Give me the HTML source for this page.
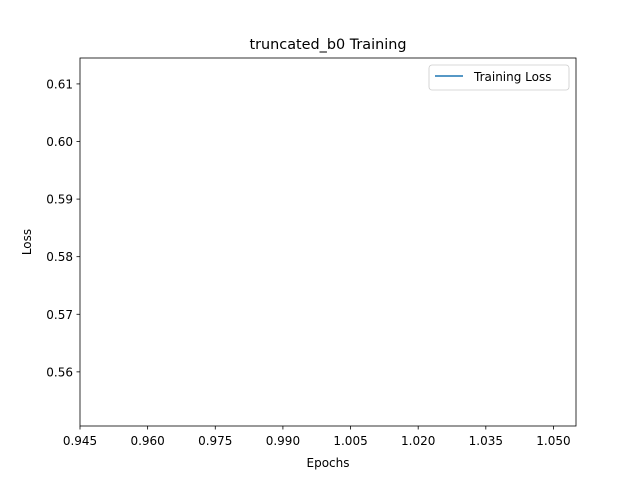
<!DOCTYPE html>
<html><head><meta charset="utf-8"><style>
body{margin:0;background:#fff}
svg text{font-family:"DejaVu Sans","Liberation Sans",sans-serif;fill:#000}
</style></head><body>
<svg id="chart" width="640" height="480" viewBox="0 0 640 480" xmlns="http://www.w3.org/2000/svg">
<rect width="640" height="480" fill="#fff"/>
<text x="328" y="49" font-size="14.4" text-anchor="middle">truncated_b0 Training</text>
<g id="xticks"></g>
<g id="yticks"></g>
<path id="series" fill="none" stroke="#1f77b4" stroke-width="1.5"/>
<rect x="80" y="58" width="496" height="368" fill="none" stroke="#000" stroke-width="0.8"/>
<text x="328" y="467" font-size="12" text-anchor="middle">Epochs</text>
<text x="31" y="242" font-size="12" text-anchor="middle" transform="rotate(-90 31 242)">Loss</text>
<g>
<rect x="429" y="65" width="140" height="25" rx="3" fill="#fff" stroke="#ccc" stroke-width="0.8"/>
<line x1="435" y1="76" x2="463" y2="76" stroke="#1f77b4" stroke-width="1.5"/>
<text x="474" y="81" font-size="12">Training Loss</text>
</g>
</svg>
<script>
const epochs = [1.0];
const lossValues = [0.5826];
const xTickLabels = ["0.945","0.960","0.975","0.990","1.005","1.020","1.035","1.050"];
const yTickLabels = ["0.56","0.57","0.58","0.59","0.60","0.61"];

const xMin = 0.945, xMax = 1.055, yMin = 0.5506, yMax = 0.6145;
const L = 80, R = 576, T = 58, B = 426;
function xs(v){return L + (v - xMin) / (xMax - xMin) * (R - L);}
function ys(v){return B - (v - yMin) / (yMax - yMin) * (B - T);}
const NS = "http://www.w3.org/2000/svg";
const xg = document.getElementById('xticks');
xTickLabels.forEach(t => {
  const x = xs(parseFloat(t));
  const l = document.createElementNS(NS, 'line');
  
  
  l.setAttribute('x1', x); l.setAttribute('x2', x); l.setAttribute('y1', B); l.setAttribute('y2', B + 3.5);
  l.setAttribute('stroke', '#000'); l.setAttribute('stroke-width', '0.8');
  xg.appendChild(l);
  const tx = document.createElementNS(NS, 'text');
  
  
  tx.setAttribute('x', x); tx.setAttribute('y', B + 19); tx.setAttribute('font-size', '12'); tx.setAttribute('text-anchor', 'middle');
  tx.textContent = t;
  xg.appendChild(tx);
});
const yg = document.getElementById('yticks');
yTickLabels.forEach(t => {
  const y = ys(parseFloat(t));
  const l = document.createElementNS(NS, 'line');
  
  
  l.setAttribute('x1', L - 3.5); l.setAttribute('x2', L); l.setAttribute('y1', y); l.setAttribute('y2', y);
  l.setAttribute('stroke', '#000'); l.setAttribute('stroke-width', '0.8');
  yg.appendChild(l);
  const tx = document.createElementNS(NS, 'text');
  
  
  tx.setAttribute('x', L - 7); tx.setAttribute('y', y + 4.5); tx.setAttribute('font-size', '12'); tx.setAttribute('text-anchor', 'end');
  tx.textContent = t;
  yg.appendChild(tx);
});
let d = '';
epochs.forEach((e, i) => { d += (i ? 'L' : 'M') + xs(e) + ',' + ys(lossValues[i]); });
document.getElementById('series').setAttribute('d', d);
</script>
</body></html>
